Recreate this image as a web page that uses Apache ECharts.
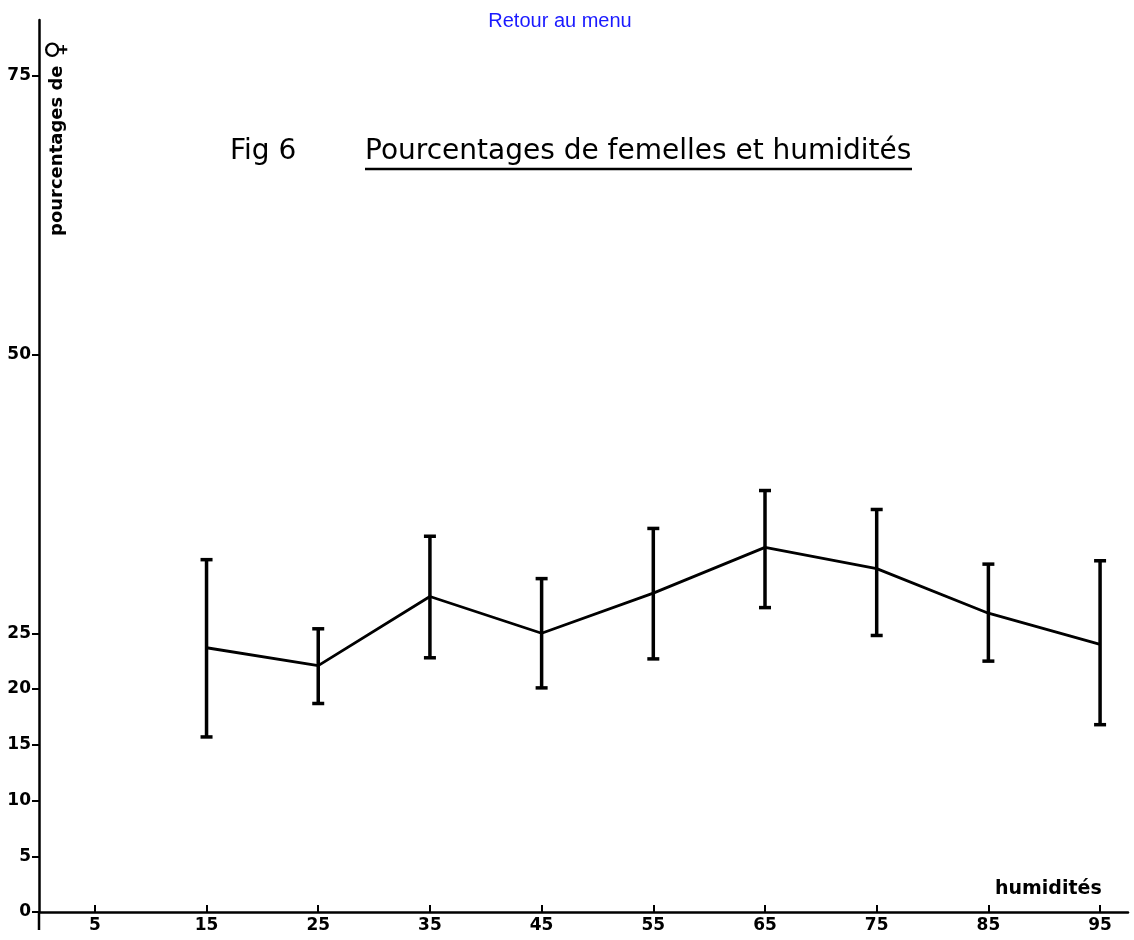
<!DOCTYPE html>
<html>
<head>
<meta charset="utf-8">
<script src="https://cdn.jsdelivr.net/npm/echarts@6/dist/echarts.min.js"></script>
<style>
html,body{margin:0;padding:0;background:#fff;}
#c{width:1134px;height:940px;}
</style>
</head>
<body>
<div id="c"></div>
<script>
const humidites = [15, 25, 35, 45, 55, 65, 75, 85, 95];
const moyennes = [23.7, 22.1, 28.3, 25.0, 28.6, 32.7, 30.8, 26.8, 24.0];
const bornesHautes = [31.6, 25.4, 33.7, 29.9, 34.4, 37.8, 36.1, 31.2, 31.5];
const bornesBasses = [15.7, 18.7, 22.8, 20.1, 22.7, 27.3, 24.8, 22.5, 16.8];
const yTicks = [0, 5, 10, 15, 20, 25, 50, 75];
const xTicks = [5, 15, 25, 35, 45, 55, 65, 75, 85, 95];

const chart = echarts.init(document.getElementById('c'), null, {renderer: 'canvas'});
const lblFont = {fontFamily: 'DejaVu Sans', fontWeight: 'bold', fontSize: 17, color: '#000'};

chart.setOption({
  animation: false,
  backgroundColor: '#fff',
  grid: {left: 39, right: 6, top: 20, bottom: 28, containLabel: false, outerBoundsMode: 'none'},
  xAxis: {
    type: 'value', min: 0, max: 97.5,
    axisLine: {onZero: true, lineStyle: {color: '#000', width: 2.5}},
    axisTick: {show: true, inside: true, length: 7, customValues: xTicks, lineStyle: {color: '#000', width: 2}},
    axisLabel: Object.assign({customValues: xTicks, margin: 5}, lblFont),
    splitLine: {show: false}
  },
  yAxis: {
    type: 'value', min: 0, max: 80,
    axisLine: {onZero: false, lineStyle: {color: '#000', width: 2.5}},
    axisTick: {show: true, inside: false, length: 7, customValues: yTicks, lineStyle: {color: '#000', width: 2}},
    axisLabel: Object.assign({customValues: yTicks, margin: 8}, lblFont),
    splitLine: {show: false}
  },
  series: [
    {
      type: 'line',
      data: humidites.map((h, i) => [h, moyennes[i]]),
      showSymbol: false,
      lineStyle: {color: '#000', width: 2.8},
      z: 3
    },
    {
      type: 'custom',
      data: humidites.map((h, i) => [h, bornesBasses[i], bornesHautes[i]]),
      renderItem: function (params, api) {
        const lo = api.coord([api.value(0), api.value(1)]);
        const hi = api.coord([api.value(0), api.value(2)]);
        const cw = 6;
        const st = {stroke: '#000', lineWidth: 3.5};
        return {
          type: 'group',
          children: [
            {type: 'line', shape: {x1: hi[0], y1: hi[1], x2: lo[0], y2: lo[1]}, style: st},
            {type: 'line', shape: {x1: hi[0] - cw, y1: hi[1], x2: hi[0] + cw, y2: hi[1]}, style: st},
            {type: 'line', shape: {x1: lo[0] - cw, y1: lo[1], x2: lo[0] + cw, y2: lo[1]}, style: st}
          ]
        };
      },
      z: 4
    }
  ],
  graphic: [
    {type: 'line', shape: {x1: 39, y1: 912, x2: 39, y2: 930}, style: {stroke: '#000', lineWidth: 2.5}},
    {type: 'text', x: 560, y: 21, style: {text: 'Retour au menu', fill: '#1a1aff', font: '20px "Liberation Sans", Arial, sans-serif', textAlign: 'center', textVerticalAlign: 'middle'}},
    {type: 'text', x: 230, y: 152, style: {text: 'Fig 6', fill: '#000', font: '28px "DejaVu Sans"', textVerticalAlign: 'middle'}},
    {type: 'text', x: 365, y: 152, style: {text: 'Pourcentages de femelles et humidités', fill: '#000', font: '28px "DejaVu Sans"', textVerticalAlign: 'middle'}},
    {type: 'line', shape: {x1: 365, y1: 169, x2: 912, y2: 169}, style: {stroke: '#000', lineWidth: 2.5}},
    {type: 'text', x: 57, y: 236, rotation: Math.PI / 2, style: {
      text: '{a|pourcentages de }{b|♀}', fill: '#000', textVerticalAlign: 'middle',
      rich: {
        a: {font: 'bold 18px "DejaVu Sans"', fill: '#000'},
        b: {font: 'bold 26px "DejaVu Sans"', fill: '#000'}
      }
    }},
    {type: 'text', x: 995, y: 889, style: {text: 'humidités', fill: '#000', font: 'bold 19px "DejaVu Sans"', textVerticalAlign: 'middle'}}
  ]
});
</script>
</body>
</html>
